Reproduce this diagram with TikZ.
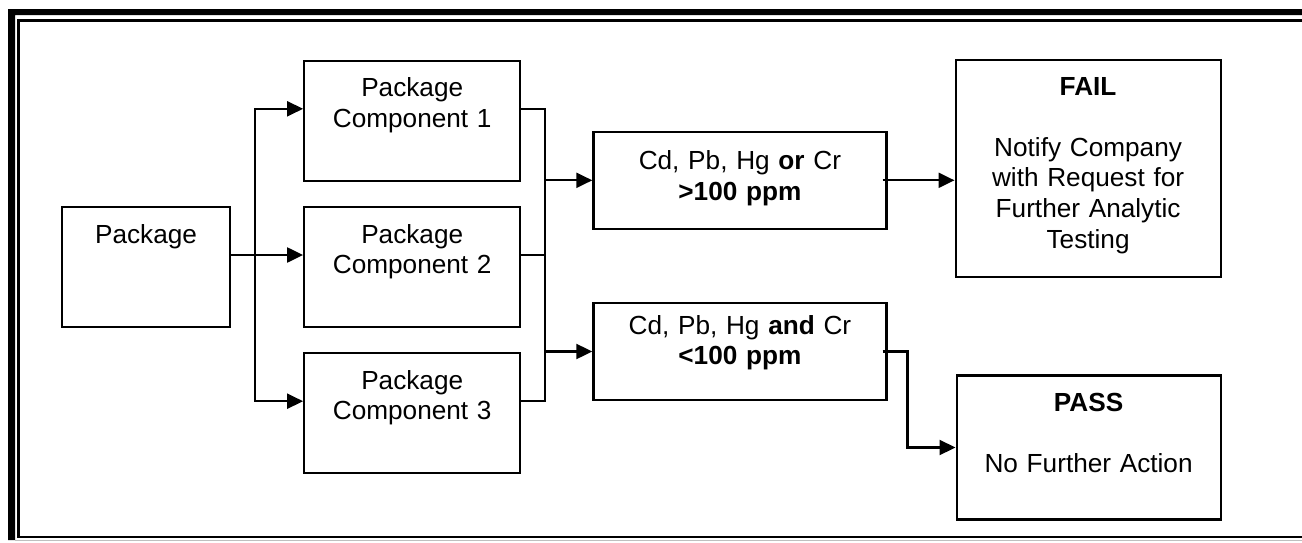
\documentclass[tikz,border=0pt]{standalone}
\usepackage{fontspec}
\setmainfont{Liberation Sans}
\usetikzlibrary{arrows.meta, positioning}
\tikzstyle{block} = [rectangle, draw=black, line width=1.25pt, inner sep=0pt, align=center, text height=0.72cm, font=\fontsize{14.9pt}{17.4pt}\selectfont]
\tikzstyle{arrow} = [line width=1.25pt, -{Triangle[length=0.32cm, width=0.3cm]}]
\tikzstyle{link} = [line width=1.25pt]

\begin{document}
\begin{tikzpicture}
  \useasboundingbox (0,0) rectangle (26.04,10.84);
  \fill (0.16,0.04) -- (0.16,10.66) -- (26.04,10.66) -- (26.04,10.54) -- (0.30,10.54) -- (0.30,0.04) -- cycle;
  \draw[link] (26.04,10.43) -- (0.37,10.43) -- (0.37,0.10) -- (26.04,0.10);
  \draw[gray!50, line width=0.4pt] (0.30,0.04) -- (26.04,0.04);

  \node[block, text width=3.36cm, text depth=1.68cm] (pkg) at (2.92,5.50) {Package};
  \node[block, text width=4.32cm, text depth=1.68cm, right=1.44cm of pkg] (comp2) {Package\\Component 2};
  \node[block, text width=4.32cm, text depth=1.68cm, above=0.48cm of comp2] (comp1) {Package\\Component 1};
  \node[block, text width=4.32cm, text depth=1.68cm, below=0.48cm of comp2] (comp3) {Package\\Component 3};
  \node[block, text width=5.86cm, text height=0.76cm, text depth=1.18cm, right=1.42cm of comp1, yshift=-1.19cm] (orbox) {Cd, Pb, Hg \textbf{or} Cr\\\textbf{>100 ppm}};
  \node[block, text width=5.86cm, text height=0.62cm, text depth=1.32cm, below=1.44cm of orbox] (andbox) {Cd, Pb, Hg \textbf{and} Cr\\\textbf{<100 ppm}};
  \node[block, text width=5.30cm, text depth=3.62cm, right=1.34cm of orbox, yshift=0.24cm] (fail) {\textbf{FAIL}\\[0.6cm]Notify Company\\with Request for\\Further Analytic\\Testing};
  \node[block, text width=5.28cm, text depth=2.16cm, right=1.36cm of andbox, yshift=-1.92cm] (pass) {\textbf{PASS}\\[0.6cm]No Further Action};

  \coordinate (fork) at ([xshift=0.48cm, yshift=0.24cm]pkg.east);
  \coordinate (join) at ([xshift=0.48cm, yshift=0.24cm]comp2.east);

  \draw[arrow] ([yshift=0.24cm]pkg.east) -- ([yshift=0.24cm]comp2.west);
  \draw[arrow] (fork) |- ([yshift=0.24cm]comp1.west);
  \draw[arrow] (fork) |- ([yshift=0.24cm]comp3.west);
  \draw[link] ([yshift=0.24cm]comp1.east) -| (join);
  \draw[link] ([yshift=0.24cm]comp3.east) -| (join);
  \draw[link] ([yshift=0.24cm]comp2.east) -- (join);
  \draw[arrow] (join |- orbox.west) -- (orbox.west);
  \draw[arrow] (join |- andbox.west) -- (andbox.west);
  \draw[arrow] ([xshift=-0.1cm]orbox.east) -- (orbox.east -| fail.west);
  \draw[arrow] ([xshift=-0.1cm]andbox.east) -| ([xshift=-0.96cm]pass.west) -- (pass.west);
\end{tikzpicture}
\end{document}
